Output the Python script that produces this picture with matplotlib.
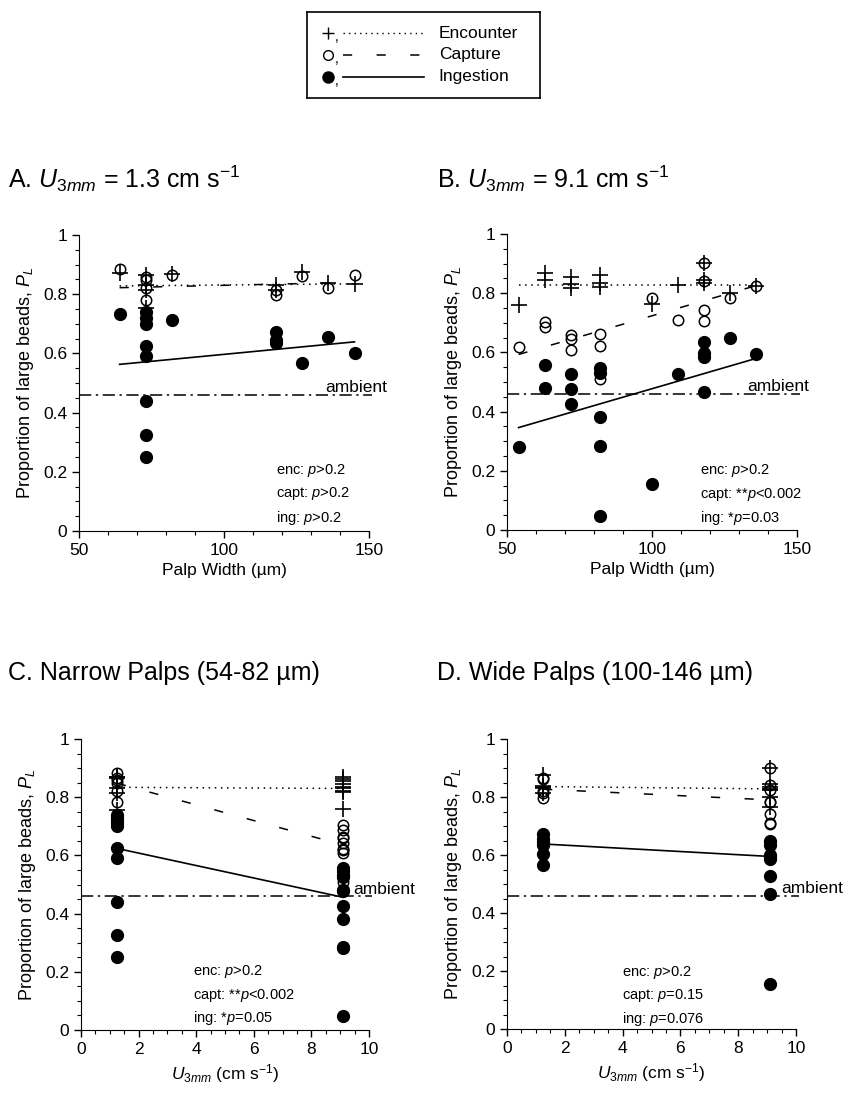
import matplotlib
matplotlib.use("Agg")
from matplotlib import pyplot as plt
from matplotlib.ticker import MultipleLocator

plt.rcParams['font.family'] = ['Liberation Sans', 'DejaVu Sans']
plt.rcParams['mathtext.fontset'] = 'custom'
plt.rcParams['mathtext.rm'] = 'Liberation Sans'
plt.rcParams['mathtext.it'] = 'Liberation Sans:italic'

# flow speeds (cm/s) of the two treatments
U_SLOW = 1.25
U_FAST = 9.1
NARROW_MAX = 82  # narrow palps: 54-82 um, wide: 100-146 um
AMBIENT = 0.46

# panel A, U3mm = 1.3 cm/s, x = palp width (um)
enc_A_x = [64, 73, 73, 73, 73, 82, 118, 118, 127, 136, 145]
enc_A_y = [0.87, 0.865, 0.83, 0.815, 0.755, 0.868, 0.83, 0.814, 0.876, 0.837, 0.834]
cap_A_x = [64, 73, 73, 73, 73, 82, 118, 118, 127, 136, 145]
cap_A_y = [0.884, 0.859, 0.848, 0.82, 0.782, 0.865, 0.814, 0.797, 0.861, 0.82, 0.865]
ing_A_x = [64, 73, 73, 73, 73, 73, 73, 73, 73, 82, 118, 118, 118, 127, 136, 145]
ing_A_y = [0.733, 0.74, 0.72, 0.70, 0.625, 0.59, 0.44, 0.325, 0.25, 0.712,
           0.673, 0.645, 0.634, 0.566, 0.654, 0.602]

# panel B, U3mm = 9.1 cm/s
enc_B_x = [54, 63, 63, 72, 72, 72, 82, 82, 82, 100, 109, 118, 118, 118, 127, 136]
enc_B_y = [0.76, 0.869, 0.845, 0.856, 0.831, 0.818, 0.862, 0.835, 0.82, 0.764,
           0.828, 0.901, 0.845, 0.835, 0.80, 0.824]
cap_B_x = [54, 63, 63, 72, 72, 72, 82, 82, 82, 100, 109, 118, 118, 118, 118, 127, 136]
cap_B_y = [0.618, 0.704, 0.686, 0.659, 0.644, 0.608, 0.663, 0.622, 0.509, 0.783,
           0.709, 0.901, 0.842, 0.743, 0.707, 0.783, 0.824]
ing_B_x = [54, 63, 63, 72, 72, 72, 82, 82, 82, 82, 82, 100, 109, 118, 118, 118, 118, 127, 136]
ing_B_y = [0.282, 0.557, 0.481, 0.527, 0.477, 0.426, 0.546, 0.532, 0.383, 0.285, 0.048,
           0.154, 0.526, 0.635, 0.599, 0.585, 0.467, 0.65, 0.593]

# regression lines (end points)
fit_A_x = [64, 145]
fit_A = {'enc': [0.828, 0.835], 'cap': [0.822, 0.84], 'ing': [0.563, 0.639]}
fit_B_x = [54, 136]
fit_B = {'enc': [0.828, 0.828], 'cap': [0.593, 0.826], 'ing': [0.346, 0.58]}
fit_U_x = [U_SLOW, U_FAST]
fit_C = {'enc': [0.834, 0.83], 'cap': [0.848, 0.636], 'ing': [0.624, 0.456]}
fit_D = {'enc': [0.836, 0.828], 'cap': [0.827, 0.79], 'ing': [0.638, 0.595]}

stats_A = ['enc: $\\mathit{p}$>0.2', 'capt: $\\mathit{p}$>0.2', 'ing: $\\mathit{p}$>0.2']
stats_B = ['enc: $\\mathit{p}$>0.2', 'capt: **$\\mathit{p}$<0.002', 'ing: *$\\mathit{p}$=0.03']
stats_C = ['enc: $\\mathit{p}$>0.2', 'capt: **$\\mathit{p}$<0.002', 'ing: *$\\mathit{p}$=0.05']
stats_D = ['enc: $\\mathit{p}$>0.2', 'capt: $\\mathit{p}$=0.15', 'ing: $\\mathit{p}$=0.076']

U_LABEL = '$\\mathit{U}_{\\mathit{3mm}}$'


def by_width(xs, ys, narrow):
    return [y for x, y in zip(xs, ys) if (x <= NARROW_MAX) == narrow]


def speed_panel(narrow):
    """Pool the palp-width data of A and B by flow speed for panels C/D."""
    out = {}
    for key, (xa, ya, xb, yb) in {'enc': (enc_A_x, enc_A_y, enc_B_x, enc_B_y),
                                  'cap': (cap_A_x, cap_A_y, cap_B_x, cap_B_y),
                                  'ing': (ing_A_x, ing_A_y, ing_B_x, ing_B_y)}.items():
        slow = by_width(xa, ya, narrow)
        fast = by_width(xb, yb, narrow)
        out[key] = ([U_SLOW] * len(slow) + [U_FAST] * len(fast), slow + fast)
    return out


DASH_ENC = (0, (1, 3))
DASH_CAP = (0, (6, 16))
DASH_AMB = (0, (8, 3, 1.5, 3))


def draw_panel(ax, pts, fit_x, fit, xlim, xmajor, xminor, stats, stats_xy, amb_x, xlabel):
    ax.plot(*pts['ing'], 'o', color='black', ms=8.5, zorder=3)
    ax.plot(*pts['cap'], 'o', mec='black', mew=1.1, ms=7.5, zorder=4, fillstyle='none')
    ax.plot(*pts['enc'], '+', color='black', ms=12, mew=1.2, zorder=5)

    ax.plot(fit_x, fit['enc'], color='black', lw=1.1, ls=DASH_ENC, zorder=2)
    ax.plot(fit_x, fit['cap'], color='black', lw=1.1, ls=DASH_CAP, zorder=2)
    ax.plot(fit_x, fit['ing'], color='black', lw=1.2, ls='-', zorder=2)

    span = xlim[1] - xlim[0]
    ax.plot([xlim[0], xlim[1] + 0.012 * span], [AMBIENT, AMBIENT], color='black',
            lw=1.1, ls=DASH_AMB, clip_on=False, zorder=2)
    ax.text(amb_x, AMBIENT + 0.008, 'ambient', fontsize=12.5, va='baseline', ha='left')

    for i, s in enumerate(stats):
        ax.text(stats_xy[0], stats_xy[1] - i * 0.08, s, fontsize=10.5, va='center')

    ax.set_xlim(*xlim)
    ax.set_ylim(0, 1)
    ax.xaxis.set_major_locator(MultipleLocator(xmajor))
    ax.xaxis.set_minor_locator(MultipleLocator(xminor))
    ax.yaxis.set_minor_locator(MultipleLocator(0.05))
    ax.set_yticks([0, 0.2, 0.4, 0.6, 0.8, 1.0])
    ax.set_yticklabels(['0', '0.2', '0.4', '0.6', '0.8', '1'])
    for side in ('top', 'right'):
        ax.spines[side].set_visible(False)
    ax.tick_params(which='major', length=5, width=1, labelsize=12.5, direction='out')
    ax.tick_params(which='minor', length=3, width=0.8, direction='out')
    ax.set_ylabel('Proportion of large beads, $\\mathit{P_L}$', fontsize=13, labelpad=5)
    ax.set_xlabel(xlabel, fontsize=12.5, labelpad=4)


W, H = 846, 1093
fig = plt.figure(figsize=(W / 100, H / 100), dpi=100)

axA = fig.add_axes([79 / W, 1 - 531 / H, 290 / W, 296 / H])
axB = fig.add_axes([507 / W, 1 - 530 / H, 290 / W, 296 / H])
axC = fig.add_axes([81 / W, 1 - 1030 / H, 288 / W, 291 / H])
axD = fig.add_axes([507 / W, 1 - 1029 / H, 289 / W, 290 / H])

ptsA = {'enc': (enc_A_x, enc_A_y), 'cap': (cap_A_x, cap_A_y), 'ing': (ing_A_x, ing_A_y)}
ptsB = {'enc': (enc_B_x, enc_B_y), 'cap': (cap_B_x, cap_B_y), 'ing': (ing_B_x, ing_B_y)}

draw_panel(axA, ptsA, fit_A_x, fit_A, (50, 150), 50, 10, stats_A, (118, 0.205), 135,
           'Palp Width (µm)')
draw_panel(axB, ptsB, fit_B_x, fit_B, (50, 150), 50, 10, stats_B, (116.5, 0.2), 133,
           'Palp Width (µm)')
xl_U = U_LABEL + ' (cm s$^{-1}$)'
draw_panel(axC, speed_panel(True), fit_U_x, fit_C, (0, 10), 2, 0.5, stats_C, (3.9, 0.2), 9.45,
           xl_U)
draw_panel(axD, speed_panel(False), fit_U_x, fit_D, (0, 10), 2, 0.5, stats_D, (3.97, 0.196), 9.5,
           xl_U)

title_kw = dict(fontsize=18, va='baseline', ha='left')
fig.text(8 / W, 1 - 188 / H, 'A. ' + U_LABEL + ' = 1.3 cm s$^{-1}$', **title_kw)
fig.text(437 / W, 1 - 188 / H, 'B. ' + U_LABEL + ' = 9.1 cm s$^{-1}$', **title_kw)
fig.text(8 / W, 1 - 680 / H, 'C. Narrow Palps (54-82 µm)', **title_kw)
fig.text(437 / W, 1 - 680 / H, 'D. Wide Palps (100-146 µm)', **title_kw)

# legend box drawn by hand: symbol, line sample, label
leg = fig.add_axes([307 / W, 1 - 98 / H, 233 / W, 86 / H])
leg.set_xlim(0, 1)
leg.set_ylim(1, 0)
leg.set_xticks([])
leg.set_yticks([])
for sp in leg.spines.values():
    sp.set_linewidth(1.2)
rows = [0.245, 0.5, 0.755]
leg.plot([0.09], [rows[0]], '+', color='black', ms=9, mew=1)
leg.plot([0.09], [rows[1]], 'o', mec='black', ms=7, mew=1, fillstyle='none')
leg.plot([0.09], [rows[2]], 'o', color='black', ms=8)
for r in rows:
    leg.text(0.118, r + 0.05, ',', fontsize=10, va='center')
leg.plot([0.155, 0.5], [rows[0]] * 2, color='black', lw=1, ls=DASH_ENC)
leg.plot([0.155, 0.5], [rows[1]] * 2, color='black', lw=1.1, ls=DASH_CAP)
leg.plot([0.155, 0.5], [rows[2]] * 2, color='black', lw=1.2)
for r, name in zip(rows, ['Encounter', 'Capture', 'Ingestion']):
    leg.text(0.565, r, name, fontsize=12.5, va='center')

fig.savefig('out.png', dpi=100)
